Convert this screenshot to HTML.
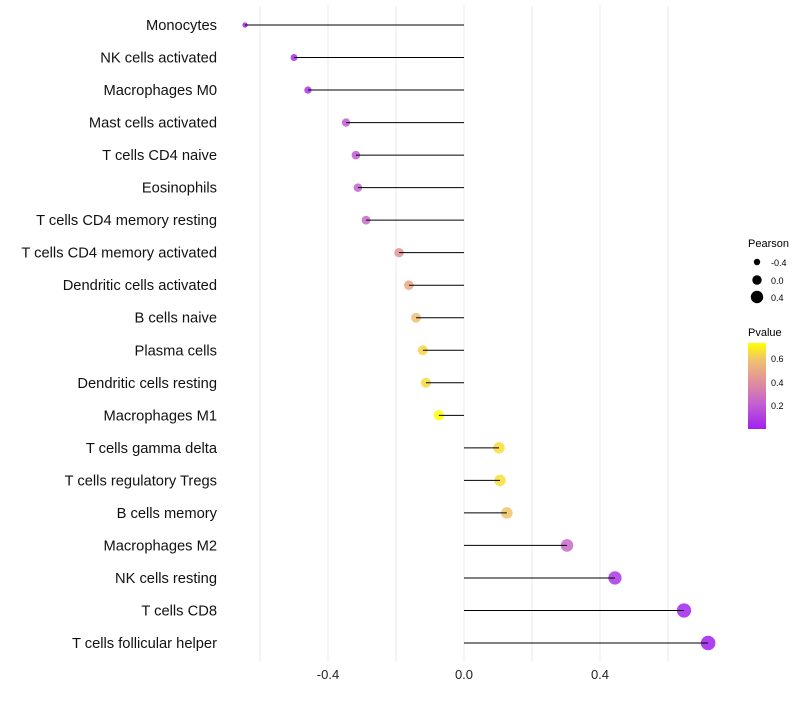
<!DOCTYPE html>
<html><head><meta charset="utf-8"><style>
body{margin:0;background:#fff;font-family:"Liberation Sans",sans-serif}
</style></head><body>
<svg id="c" width="800" height="700">
<defs><linearGradient id="g" x1="0" y1="1" x2="0" y2="0">
<stop offset="0" stop-color="#a020f0"/><stop offset="0.3" stop-color="#c462d0"/><stop offset="0.55" stop-color="#e0909a"/><stop offset="0.8" stop-color="#f0c070"/><stop offset="1" stop-color="#ffff00"/>
</linearGradient></defs>
<g id="grid"></g><g id="marks"></g><g id="labels"></g>
<g font-size="10">
<text x="748" y="247" font-size="11">Pearson</text>
<circle cx="757" cy="262" r="3.2"/><text x="771" y="266" font-size="9">-0.4</text>
<circle cx="757" cy="280" r="4.7"/><text x="771" y="284" font-size="9">0.0</text>
<circle cx="757" cy="297" r="6.2"/><text x="771" y="301" font-size="9">0.4</text>
<text x="748" y="336" font-size="11">Pvalue</text>
<rect x="748" y="343" width="18" height="86" fill="url(#g)"/>
<text x="771" y="362" font-size="9">0.6</text>
<text x="771" y="386" font-size="9">0.4</text>
<text x="771" y="409" font-size="9">0.2</text>
</g>
</svg>
<script>
const categories=["Monocytes","NK cells activated","Macrophages M0","Mast cells activated","T cells CD4 naive","Eosinophils","T cells CD4 memory resting","T cells CD4 memory activated","Dendritic cells activated","B cells naive","Plasma cells","Dendritic cells resting","Macrophages M1","T cells gamma delta","T cells regulatory  Tregs","B cells memory","Macrophages M2","NK cells resting","T cells CD8","T cells follicular helper"];
const pearson=[-0.644,-0.5,-0.459,-0.347,-0.318,-0.312,-0.288,-0.191,-0.162,-0.141,-0.121,-0.112,-0.074,0.103,0.106,0.126,0.303,0.444,0.647,0.718];
const pvalue=[0.005,0.04,0.07,0.2,0.2,0.22,0.25,0.42,0.5,0.58,0.64,0.65,0.74,0.66,0.66,0.6,0.25,0.08,0.02,0.005];
const ticks=[-0.4,0,0.4];
const ns="http://www.w3.org/2000/svg";
const xs=v=>464+v*340;
const ys=i=>25+i*(643-25)/19;
const rs=v=>Math.sqrt(Math.max(2,29+34*v));
const stops=[[0,[160,32,240]],[0.3,[196,98,208]],[0.55,[224,144,154]],[0.8,[240,192,112]],[1,[255,255,0]]];
function col(p){const t=Math.max(0,Math.min(1,(p-0.004)/0.732));
for(let k=1;k<stops.length;k++){if(t<=stops[k][0]){const a=stops[k-1],b=stops[k];const u=(t-a[0])/(b[0]-a[0]);
return `rgb(${a[1].map((x,i)=>Math.round(x+(b[1][i]-x)*u))})`;}}return 'rgb(255,255,0)';}
function mk(tag,at,par){const e=document.createElementNS(ns,tag);for(const k in at)e.setAttribute(k,at[k]);par.appendChild(e);return e;}
const grid=document.getElementById('grid'),marks=document.getElementById('marks'),labels=document.getElementById('labels');
[-0.6,-0.4,-0.2,0,0.2,0.4,0.6].forEach(v=>{const l=mk('line',{x1:xs(v),x2:xs(v),y1:5,y2:662,stroke:'#ebebeb','stroke-width':1},grid);

});
ticks.forEach(v=>{const t=mk('text',{x:xs(v),y:679,'text-anchor':'middle','font-size':13,fill:'#222'},labels);t.textContent=v.toFixed(1);

});
categories.forEach((c,i)=>{const y=ys(i);
const t=mk('text',{x:217,y:y+5,'text-anchor':'end','font-size':14.7,fill:'#111'},labels);t.textContent=c;


const d=mk('circle',{cx:xs(pearson[i]),cy:y,r:rs(pearson[i]),fill:col(pvalue[i]),'fill-opacity':0.85},marks);


const l=mk('line',{x1:xs(0),x2:xs(pearson[i]),y1:y,y2:y,stroke:'#000','stroke-width':1},marks);

});
</script>
</body></html>
